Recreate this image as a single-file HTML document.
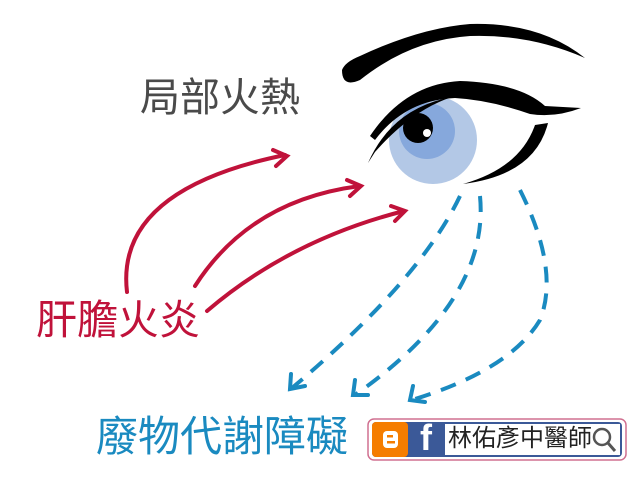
<!DOCTYPE html>
<html><head><meta charset="utf-8"><style>
html,body{margin:0;padding:0;background:#fff;}
body{width:640px;height:480px;position:relative;overflow:hidden;font-family:"Liberation Sans","Noto Sans CJK TC",sans-serif;}
.t{position:absolute;white-space:nowrap;line-height:1;}
</style></head><body>
<svg width="640" height="480" style="position:absolute;left:0;top:0">
<path d="M342,70 Q345,62 360,56 Q420,28 470,24 Q540,22 585,58 Q530,34 470,36 Q410,40 360,80 Q342,88 342,70 Z" fill="#000"/>
<circle cx="433" cy="140" r="44" fill="#b3c8e6"/>
<circle cx="427" cy="131" r="28" fill="#86a8dc"/>
<circle cx="418" cy="128" r="15" fill="#000"/>
<circle cx="427" cy="133" r="4" fill="#fff"/>
<path d="M370,136 Q405,84 460,81 Q520,83 545,106 L581,108 Q555,118 530,114 Q490,100 455,98 Q405,100 375,140 Z" fill="#000"/>
<path d="M368,163 Q392,108 452,97 Q412,110 375,152 Z" fill="#000"/>
<path d="M548,123 Q535,175 463,184 Q520,168 535,125 Z" fill="#000"/>
<g fill="none" stroke="#c0123a" stroke-width="4" stroke-linecap="round">
<path d="M127,292 Q115,190 285,155"/>
<path d="M273,150 L287,156 L276,166"/>
<path d="M195,286 Q250,200 360,186"/>
<path d="M347,180 L361,186 L350,196"/>
<path d="M207,311 Q290,240 404,211"/>
<path d="M391,206 L405,211 L395,221"/>
</g>
<g fill="none" stroke="#1a8ac0" stroke-width="4" stroke-dasharray="16,11">
<path d="M460,196 Q420,280 292,388"/>
<path d="M480,196 Q490,300 355,395"/>
<path d="M520,190 Q560,270 540,320 Q510,370 412,400"/>
</g>
<g fill="none" stroke="#1a8ac0" stroke-width="4" stroke-linecap="round">
<path d="M291,374 L290,389 L305,386"/>
<path d="M355,380 L353,395 L368,395"/>
<path d="M413,386 L410,400 L425,402"/>
</g>
<rect x="368" y="419" width="258" height="41" rx="6" fill="#fff" stroke="#d07090" stroke-width="1.5"/>
<rect x="372" y="422" width="250" height="35" rx="4" fill="#3b5998"/>
<rect x="372" y="422" width="36" height="35" rx="4" fill="#f57d00"/>
<rect x="383" y="431" width="15" height="17" rx="4" fill="#fff"/>
<rect x="387" y="435" width="6" height="2.5" fill="#f57d00"/>
<rect x="387" y="441" width="8" height="2.5" fill="#f57d00"/>
<rect x="445" y="424" width="175" height="31" fill="#fff"/>
<circle cx="602" cy="437" r="8" fill="none" stroke="#555" stroke-width="2.5"/>
<path d="M608,443 L615,451" stroke="#555" stroke-width="3"/>
</svg>
<div class="t" style="left:140px;top:78px;font-size:40px;color:#4a4a4a;">局部火熱</div>
<div class="t" style="left:36px;top:300px;font-size:41px;color:#c0123a;">肝膽火炎</div>
<div class="t" style="left:96px;top:416px;font-size:42px;color:#1a8ac0;">廢物代謝障礙</div>
<div class="t" style="left:420px;top:420px;font-size:36px;font-weight:bold;color:#fff;">f</div>
<div class="t" style="left:448px;top:427px;font-size:24px;color:#222;">林佑彥中醫師</div>
</body></html>
